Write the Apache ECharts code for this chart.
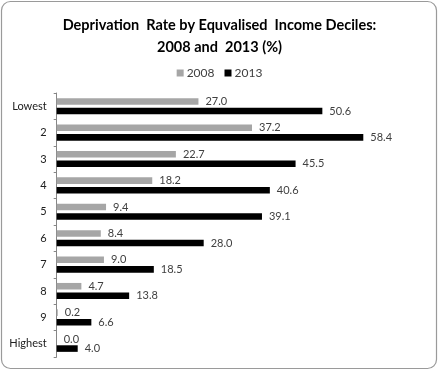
<!DOCTYPE html>
<html>
<head>
<meta charset="utf-8">
<script src="https://cdn.jsdelivr.net/npm/echarts@6/dist/echarts.min.js"></script>
<style>
html,body{margin:0;padding:0;background:#fff;}
#chart{width:439px;height:371px;}
</style>
</head>
<body>
<div id="chart"></div>
<script>
var categories = ['Lowest', '2', '3', '4', '5', '6', '7', '8', '9', 'Highest'];
var values2008 = [27.0, 37.2, 22.7, 18.2, 9.4, 8.4, 9.0, 4.7, 0.2, 0.0];
var values2013 = [50.6, 58.4, 45.5, 40.6, 39.1, 28.0, 18.5, 13.8, 6.6, 4.0];
var seriesNames = ['2008', '2013'];
var titleText = 'Deprivation  Rate by Equvalised  Income Deciles:\n2008 and  2013 (%)';

var FONT = 'Lato';
var chart = echarts.init(document.getElementById('chart'), null, {renderer: 'canvas'});
var labelOpt = {
  show: true,
  position: 'right',
  distance: 7,
  fontFamily: FONT,
  fontSize: 11,
  color: '#404040',
  formatter: function (p) { return Number(p.value).toFixed(1); }
};
chart.setOption({
  animation: false,
  backgroundColor: '#fff',
  graphic: [{
    type: 'rect',
    shape: {x: 1.5, y: 1.5, width: 435, height: 367, r: 9},
    style: {fill: 'none', stroke: '#9a9a9a', lineWidth: 1.2},
    z: -1
  }],
  title: {
    text: titleText,
    left: 'center',
    top: 9,
    textStyle: {fontFamily: FONT, fontSize: 14.5, fontWeight: 'bold', color: '#000', lineHeight: 22}
  },
  legend: {
    data: seriesNames,
    top: 62,
    left: 'center',
    itemWidth: 7,
    itemHeight: 7,
    itemGap: 10,
    icon: 'rect',
    textStyle: {fontFamily: FONT, fontSize: 12, color: '#404040', padding: [0, 0, 0, -2]}
  },
  grid: {left: 56.7, right: 14.8, top: 93, bottom: 14},
  xAxis: {
    type: 'value',
    min: 0,
    max: 70,
    show: false,
    splitLine: {show: false}
  },
  yAxis: {
    type: 'category',
    data: categories,
    inverse: true,
    axisLine: {show: true, lineStyle: {color: '#868686', width: 1}},
    axisTick: {show: true, length: 3, lineStyle: {color: '#868686'}},
    axisLabel: {fontFamily: FONT, fontSize: 11, color: '#202020', margin: 10}
  },
  series: [{
    name: seriesNames[0],
    type: 'bar',
    data: values2008,
    barCategoryGap: '39%',
    barGap: '45%',
    itemStyle: {color: '#a6a6a6'},
    label: labelOpt
  }, {
    name: seriesNames[1],
    type: 'bar',
    data: values2013,
    barCategoryGap: '39%',
    barGap: '45%',
    itemStyle: {color: '#000000'},
    label: labelOpt
  }]
});
</script>
</body>
</html>
